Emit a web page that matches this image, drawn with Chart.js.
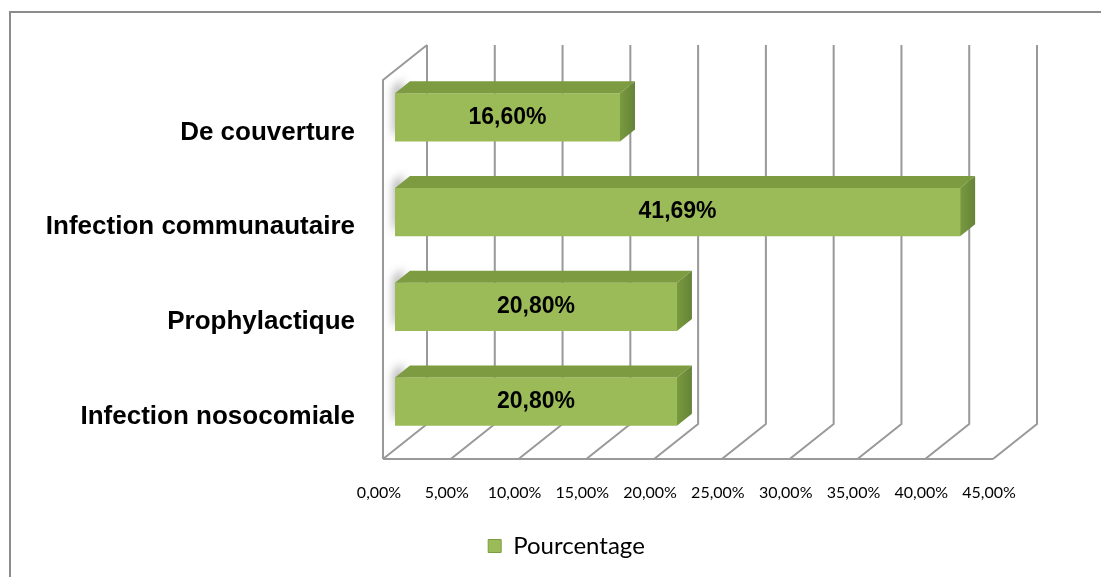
<!DOCTYPE html>
<html>
<head>
<meta charset="utf-8">
<script src="https://cdn.jsdelivr.net/npm/chart.js@4/dist/chart.umd.min.js"></script>
<style>
  html, body { margin: 0; padding: 0; background: #fff; }
  #wrap { width: 1101px; height: 577px; position: relative; }
</style>
</head>
<body>
<div id="wrap"><canvas id="chart" width="1101" height="577"></canvas></div>
<script>
const categories = ['De couverture', 'Infection communautaire', 'Prophylactique', 'Infection nosocomiale'];
const percentages = [16.60, 41.69, 20.80, 20.80];
const seriesLabel = 'Pourcentage';
const axisMax = 45;
const axisStep = 5;

function frPercent(v) {
    return v.toFixed(2).replace('.', ',') + '%';
}

// walls, floor and gridlines of the 3d box, drawn from the x scale ticks
const frame3d = {
    id: 'frame3d',
    afterLayout(chart) {
        // legend sits a bit right of the canvas centre in the original
        chart.legend.left += 64;
        chart.legend.right += 64;
    },
    beforeDraw(chart) {
        const ctx = chart.ctx;
        ctx.save();
        ctx.strokeStyle = '#8c8c8c';
        ctx.lineWidth = 2;
        ctx.strokeRect(10, 12, chart.width + 20, chart.height + 20);
        ctx.restore();
    },
    beforeDatasetsDraw(chart) {
        const { ctx, chartArea: a, scales: { x } } = chart;
        const fx = -12, fy = 10;   // bar plane -> front
        const bx = 32, by = -25;   // bar plane -> back
        const px = x.ticks.map(t => x.getPixelForValue(t.value));
        ctx.save();
        ctx.strokeStyle = '#999999';
        ctx.lineWidth = 2;
        ctx.lineJoin = 'round';
        px.forEach(p => {
            ctx.beginPath();
            ctx.moveTo(p + bx, a.top + by);
            ctx.lineTo(p + bx, a.bottom + by);
            ctx.lineTo(p + fx, a.bottom + fy);
            ctx.stroke();
        });
        ctx.beginPath();
        ctx.moveTo(px[0] + fx, a.bottom + fy);
        ctx.lineTo(px[px.length - 1] + fx, a.bottom + fy);
        ctx.stroke();
        // left wall
        ctx.beginPath();
        ctx.moveTo(px[0] + fx, a.bottom + fy);
        ctx.lineTo(px[0] + fx, a.top + fy);
        ctx.lineTo(px[0] + bx, a.top + by);
        ctx.stroke();

        // soft bar shadows on the left wall
        const bars = chart.getDatasetMeta(0).data;
        ctx.filter = 'blur(4px)';
        ctx.fillStyle = 'rgba(0,0,0,0.28)';
        bars.forEach(b => {
            const top = b.y - b.height / 2;
            ctx.beginPath();
            ctx.moveTo(b.base - 2, top - 6);
            ctx.lineTo(b.base + 8, top - 14);
            ctx.lineTo(b.base + 8, top + b.height - 16);
            ctx.lineTo(b.base - 2, top + b.height - 4);
            ctx.closePath();
            ctx.fill();
        });
        ctx.restore();
    },
    afterDatasetsDraw(chart) {
        const ctx = chart.ctx;
        const bars = chart.getDatasetMeta(0).data;
        const dx = 15, dy = -12;
        ctx.save();
        bars.forEach((b, i) => {
            const top = b.y - b.height / 2;
            const bottom = b.y + b.height / 2;
            // top face
            ctx.fillStyle = '#7d9c41';
            ctx.beginPath();
            ctx.moveTo(b.base, top);
            ctx.lineTo(b.x, top);
            ctx.lineTo(b.x + dx, top + dy);
            ctx.lineTo(b.base + dx, top + dy);
            ctx.closePath();
            ctx.fill();
            // right face
            const g = ctx.createLinearGradient(b.x, 0, b.x + dx, 0);
            g.addColorStop(0, '#789a3c');
            g.addColorStop(1, '#66833a');
            ctx.fillStyle = g;
            ctx.beginPath();
            ctx.moveTo(b.x, top);
            ctx.lineTo(b.x + dx, top + dy);
            ctx.lineTo(b.x + dx, bottom + dy);
            ctx.lineTo(b.x, bottom);
            ctx.closePath();
            ctx.fill();
            // value label
            ctx.fillStyle = '#000';
            ctx.font = 'bold 23px "Liberation Sans", Arial, sans-serif';
            ctx.textAlign = 'center';
            ctx.textBaseline = 'middle';
            ctx.fillText(frPercent(percentages[i]), (b.base + b.x) / 2, b.y);
        });
        ctx.restore();
    }
};

const ctx = document.getElementById('chart').getContext('2d');
new Chart(ctx, {
    type: 'bar',
    data: {
        labels: categories,
        datasets: [{
            label: seriesLabel,
            data: percentages,
            backgroundColor: '#9bbb59',
            borderWidth: 0,
            categoryPercentage: 1,
            barPercentage: 0.51
        }]
    },
    options: {
        indexAxis: 'y',
        responsive: false,
        animation: false,
        layout: {
            padding: { left: 0, right: 96, top: 70, bottom: 9 }
        },
        plugins: {
            legend: {
                position: 'bottom',
                labels: {
                    boxWidth: 13,
                    boxHeight: 13,
                    color: '#000',
                    font: { family: 'Lato, "Open Sans", sans-serif', size: 24 },
                    generateLabels: (chart) => [{
                        text: seriesLabel,
                        fillStyle: '#9bbb59',
                        strokeStyle: '#7d9c41',
                        lineWidth: 1,
                        datasetIndex: 0
                    }]
                }
            },
            tooltip: { enabled: false }
        },
        scales: {
            x: {
                min: 0,
                max: axisMax,
                ticks: {
                    stepSize: axisStep,
                    padding: 34,
                    labelOffset: -16,
                    color: '#000',
                    font: { family: 'Lato, "Open Sans", sans-serif', size: 16 },
                    callback: (v) => frPercent(v)
                },
                grid: { display: false, drawTicks: false },
                border: { display: false },
                afterFit: (scale) => { scale.height = 75; }
            },
            y: {
                ticks: {
                    padding: 40,
                    labelOffset: 15,
                    color: '#000',
                    font: { family: '"Liberation Sans", Arial, sans-serif', size: 26, weight: 'bold' }
                },
                grid: { display: false, drawTicks: false },
                border: { display: false },
                afterFit: (scale) => { scale.width = 395; }
            }
        }
    },
    plugins: [frame3d]
});
</script>
</body>
</html>
